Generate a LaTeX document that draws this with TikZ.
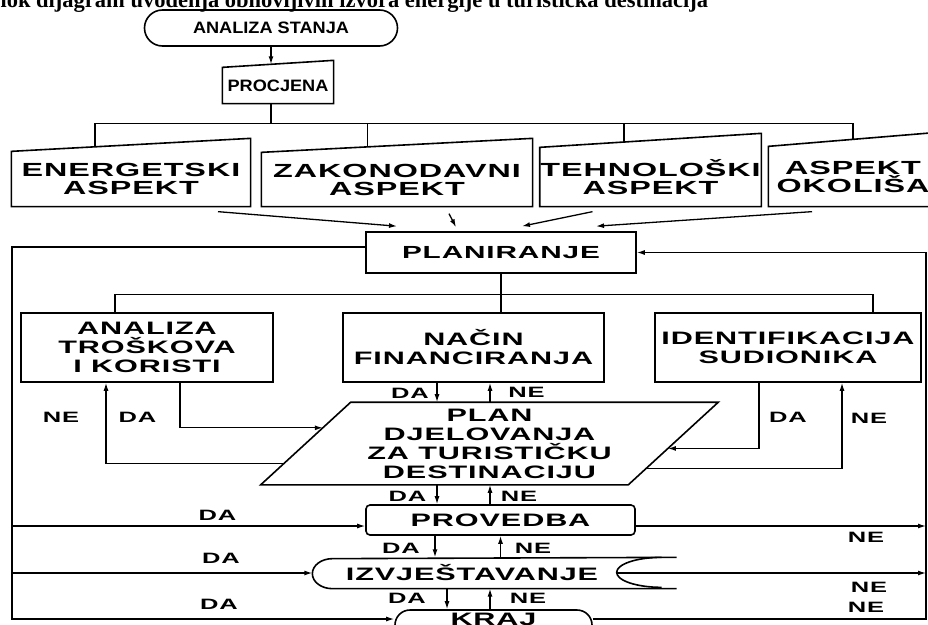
\documentclass[tikz,border=0pt]{standalone}
\usepackage{fontspec}
\setmainfont{Liberation Serif}
\newfontfamily\dfont[FakeStretch=1.7,LetterSpace=5]{Liberation Sans}
\newfontfamily\tfont[FakeStretch=1.1]{Liberation Sans}
\usetikzlibrary{arrows.meta,calc}

\begin{document}
\begin{tikzpicture}[x=1pt,y=-1pt,line width=1.3pt,
  arr/.style={-{Latex[length=8pt,width=5pt]}},
  rub/.style={line width=1.6pt},
  box/.style={draw,line width=1.6pt,inner sep=0pt,align=center,
    font=\dfont\bfseries\fontsize{18}{19}\selectfont},
  shp/.style={inner sep=0pt,align=center,
    font=\dfont\bfseries\fontsize{19}{18}\selectfont},
  term/.style={font=\tfont\bfseries\fontsize{16.5}{17}\selectfont},
  lbl/.style={inner sep=0pt,font=\dfont\bfseries\fontsize{15}{15}\selectfont}]
\useasboundingbox (0,0) rectangle (928,624);
\clip (0,0) rectangle (928,624);

\node[font=\bfseries\fontsize{22.5}{23}\selectfont,anchor=base east] (naslov) at (712,7)
  {Blok dijagram uvođenja obnovljivih izvora energije u turistička destinacija};

% analiza stanja, procjena
\node[box,term,rounded corners=18pt,minimum width=253pt,minimum height=36pt] (stanje) at (271,28) {ANALIZA STANJA};
\node[shp,term,minimum width=110pt,minimum height=35pt] (procjena) at (278,85.5) {PROCJENA};
\draw[rub] (procjena.south west) -- (procjena.south east) -- ([yshift=7pt]procjena.north east) -- (procjena.north west) -- cycle;
\coordinate (p-in) at ($(procjena.north west)!0.44!([yshift=7pt]procjena.north east)$);
\draw[arr] (stanje.south) -- (stanje.south |- p-in);

% aspekti
\node[shp,minimum width=238pt,minimum height=54pt] (energ) at (131,179) {ENERGETSKI\\ASPEKT};
\node[shp,minimum width=270pt,minimum height=53pt] (zakon) at (397,179.5) {ZAKONODAVNI\\ASPEKT};
\node[shp,minimum width=219pt,minimum height=58pt] (tehno) at (650.5,177) {TEHNOLOŠKI\\ASPEKT};
\node[shp,minimum width=168pt,minimum height=59pt] (okol) at (853,176.5) {ASPEKT\\OKOLIŠA};
\foreach \n/\r in {energ/13,zakon/14,tehno/14,okol/14}
  \draw[rub] (\n.south west) -- (\n.south east) -- ([yshift=\r pt]\n.north east) -- (\n.north west) -- cycle;

\coordinate (bus1) at ([xshift=-7pt,yshift=-20pt]procjena.south);
\coordinate (e-in) at ($(energ.north west)!0.35!([yshift=13pt]energ.north east)$);
\coordinate (z-in) at ($(zakon.north west)!0.39!([yshift=14pt]zakon.north east)$);
\coordinate (t-in) at ($(tehno.north west)!0.38!([yshift=14pt]tehno.north east)$);
\coordinate (o-in) at ($(okol.north west)!0.5!([yshift=14pt]okol.north east)$);
\draw (bus1 |- procjena.south) -- (bus1);
\draw (e-in) |- (bus1) -| (o-in);
\draw (z-in) -- (z-in |- bus1);
\draw (t-in) -- (t-in |- bus1);

% planiranje
\node[box,font=\dfont\bfseries\fontsize{17.5}{18}\selectfont,minimum width=270pt,minimum height=41pt] (plan) at (501,252.5) {PLANIRANJE};
\draw[arr] ([xshift=87pt,yshift=-5pt]energ.south) -- ([xshift=-104pt,yshift=5pt]plan.north);
\draw[arr] ([xshift=52pt,yshift=-7pt]zakon.south) -- ([xshift=-45pt,yshift=4pt]plan.north);
\draw[arr] ([xshift=-58pt,yshift=-5pt]tehno.south) -- ([xshift=21pt,yshift=5pt]plan.north);
\draw[arr] ([xshift=-41pt,yshift=-5pt]okol.south) -- ([xshift=95pt,yshift=5pt]plan.north);

\node[box,minimum width=252pt,minimum height=69pt] (trosak) at (147,347.5) {ANALIZA\\TROŠKOVA\\I KORISTI};
\node[box,minimum width=261pt,minimum height=69pt] (financ) at (473.5,347.5) {NAČIN\\FINANCIRANJA};
\node[box,minimum width=266pt,minimum height=69pt] (sudion) at (788,347.5) {IDENTIFIKACIJA\\SUDIONIKA};
\draw (plan.south) -- ++(0,21) coordinate (bus2);
\draw (bus2) -- (financ.north -| bus2);
\draw ([xshift=-32pt]trosak.north) |- (bus2) -| ([xshift=85pt]sudion.north);

% plan djelovanja
\node[box,draw=none,minimum width=366pt,minimum height=81pt] (djel) at (489.5,443.5) {PLAN\\DJELOVANJA\\ZA TURISTIČKU\\DESTINACIJU};
\coordinate (d-tl) at ([xshift=45pt]djel.north west);
\coordinate (d-tr) at ([xshift=45pt]djel.north east);
\coordinate (d-br) at ([xshift=-45pt]djel.south east);
\coordinate (d-bl) at ([xshift=-45pt]djel.south west);
\draw[rub] (d-tl) -- (d-tr) -- (d-br) -- (d-bl) -- cycle;

\draw[arr] ([xshift=-36.5pt]financ.south) -- ([xshift=-36.5pt]financ.south |- djel.north);
\draw[arr] ([xshift=16.5pt]financ.south |- djel.north) -- ([xshift=16.5pt]financ.south);
\draw[arr] ([xshift=33pt]trosak.south) |- ($(d-bl)!0.69!(d-tl)$);
\draw[arr] ($(d-bl)!0.26!(d-tl)$) -| ([xshift=-41pt]trosak.south);
\draw[arr] ([xshift=-29pt]sudion.south) |- ($(d-br)!0.44!(d-tr)$);
\draw[arr] ($(d-br)!0.2!(d-tr)$) -| ([xshift=54pt]sudion.south);

% provedba, izvjestavanje, kraj
\node[box,rounded corners=4pt,minimum width=269pt,minimum height=30pt] (proved) at (500.5,520) {PROVEDBA};
\node[minimum width=363pt,minimum height=30pt,inner sep=0pt] (izv) at (494.5,573) {};
\node[box,draw=none] (izvt) at (472,573) {IZVJEŠTAVANJE};
\draw[rub] (izv.south east) -- ([xshift=20pt]izv.south west)
  arc[start angle=270,end angle=90,x radius=20pt,y radius=15pt] -- (izv.north east);
\draw[rub] ([xshift=-15pt]izv.north east) arc[start angle=90,end angle=270,x radius=45pt,y radius=15pt];
\node[draw,rub,rounded corners=15pt,minimum width=197pt,minimum height=30pt] (kraj) at (493.5,625) {};
\node[box,draw=none] (krajt) at (493.5,619.5) {KRAJ};

\draw[arr] ([xshift=-63.5pt]proved.north |- djel.south) -- ([xshift=-63.5pt]proved.north);
\draw[arr] ([xshift=-10.5pt]proved.north) -- ([xshift=-10.5pt]proved.north |- djel.south);
\draw[arr] ([xshift=-65.5pt]proved.south) -- ([xshift=-65.5pt]proved.south |- izv.north);
\draw[arr] (proved.south |- izv.north) -- (proved.south);
\draw[arr] ([xshift=-46.5pt]kraj.north |- izv.south) -- ([xshift=-46.5pt]kraj.north);
\draw[arr] ([xshift=-3.5pt]kraj.north) -- ([xshift=-3.5pt]kraj.north |- izv.south);

% povratne veze
\coordinate (lb) at (12,619);
\coordinate (rb) at (926,619);
\draw[arr] ([yshift=5.5pt]plan.west) -| (lb) -- (lb -| kraj.west);
\draw[arr] ([yshift=-6pt]lb |- proved.west) -- ([yshift=-6pt]proved.west);
\draw[arr] (lb |- izv.west) -- (izv.west);
\draw[arr] (kraj.east |- rb) -- (rb) |- (plan.east);
\draw[arr] ([yshift=-6pt]proved.east) -- ([yshift=-6pt]proved.east -| rb);
\draw[arr] ([xshift=-60pt]izv.east) -- (izv.east -| rb);

% oznake
\node[lbl] (da1) at (410,393) {DA};
\node[lbl] (ne1) at (526.5,392) {NE};
\node[lbl] (da2) at (137.5,417) {DA};
\node[lbl] (ne2) at (61,417) {NE};
\node[lbl] (da3) at (788,417) {DA};
\node[lbl] (ne3) at (869,418) {NE};
\node[lbl] (da4) at (407.5,496.5) {DA};
\node[lbl] (ne4) at (519,496) {NE};
\node[lbl] (da5) at (401,548) {DA};
\node[lbl] (ne5) at (533,548) {NE};
\node[lbl] (da6) at (407,598) {DA};
\node[lbl] (ne6) at (528,598) {NE};
\node[lbl] (da7) at (217.5,515) {DA};
\node[lbl] (da8) at (221,558.5) {DA};
\node[lbl] (da9) at (219,604) {DA};
\node[lbl] (ne7) at (866,537) {NE};
\node[lbl] (ne8) at (869,587.5) {NE};
\node[lbl] (ne9) at (866,607.5) {NE};
\end{tikzpicture}
\end{document}
